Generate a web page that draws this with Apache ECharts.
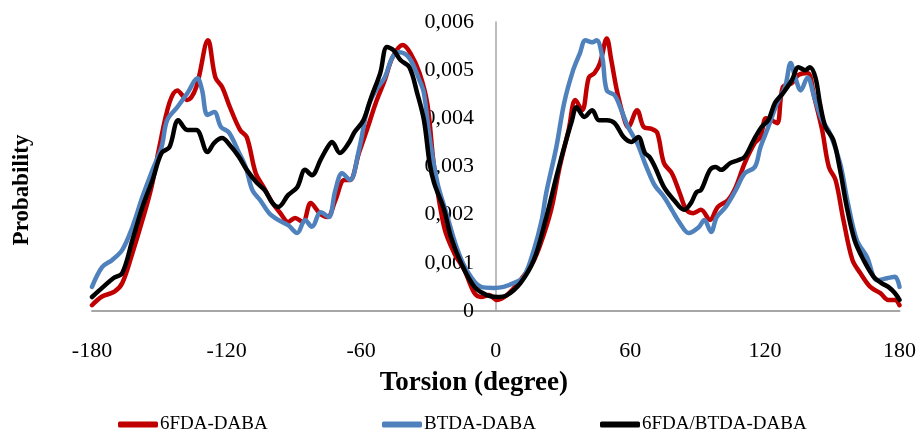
<!DOCTYPE html>
<html>
<head>
<meta charset="utf-8">
<script src="https://cdn.jsdelivr.net/npm/echarts@6/dist/echarts.min.js"></script>
<style>html,body{margin:0;padding:0;background:#fff}#c{width:919px;height:434px}</style>
</head>
<body>
<div id="c"></div>
<script>
// Values; probabilities are in units of 0.001
const UNIT = 0.001;
const xTicks = [-180, -120, -60, 0, 60, 120, 180];
const yTicks = [0, 0.001, 0.002, 0.003, 0.004, 0.005, 0.006];

const s1Name = '6FDA-DABA';
const s1Deg = [-180,-175.5,-170,-166.5,-162,-157.5,-153.5,-150,-145.5,-142,-137.5,-133.5,-128.3,-125,-122,-118.5,-114,-111,-107,-103.5,-99.5,-96,-92.5,-89.5,-86,-82.5,-78.5,-75,-71.5,-67.5,-65,-61,-57,-53.5,-49.5,-46,-41.5,-38,-34,-30.5,-27.5,-23,-18.5,-14,-9.5,-6.5,-3,0.5,5,11,17,21.5,25,28.5,32.5,35.5,38.5,41.5,44,46.5,49.5,51.5,54,57,59,63,66,69.5,72,75,78.5,82,85,88,91.5,95.5,99,103.5,107,111,115.5,118,120.5,123,125.5,128,132,135,139,142,145.5,148.5,151.5,155,159,162.5,167,171.5,175,178,180];
const s1Val = [0.12,0.30,0.40,0.58,1.2,1.89,2.57,3.40,4.32,4.58,4.38,4.65,5.62,4.85,4.65,4.23,3.76,3.61,2.86,2.57,2.24,2.03,1.85,1.93,1.85,2.24,2.03,1.95,2.30,2.72,2.72,3.28,3.82,4.32,4.79,5.27,5.52,5.35,4.94,4.3,3.0,1.74,1.20,0.85,0.37,0.29,0.33,0.23,0.33,0.64,1.05,1.6,2.16,2.99,3.76,4.38,4.17,4.85,4.94,5.15,5.66,5.21,4.58,4.03,3.82,4.17,3.82,3.78,3.70,3.07,2.86,2.45,2.10,2.03,2.10,1.89,2.16,2.30,2.57,3.07,3.49,3.61,4.0,3.96,3.90,4.65,4.73,4.90,4.94,4.44,3.76,2.99,2.72,1.89,1.06,0.79,0.50,0.37,0.23,0.23,0.12];

const s2Name = 'BTDA-DABA';
const s2Deg = [-180,-175.5,-171,-166.5,-162,-157.5,-153,-149,-146.5,-142,-137.5,-133,-131,-128.5,-125.5,-122.5,-119,-115,-111.5,-108.5,-105,-101,-97,-92.5,-88.5,-85,-82,-78,-74.5,-71.5,-68.5,-65,-61,-57,-53.5,-49.5,-46,-43,-38.5,-34,-32,-29.5,-26,-22,-17.5,-13,-6.5,-1,3.5,8,12.5,17,20.5,22.5,27,30.5,34.5,37.5,40,43,45,47.5,49.5,53,56,59,63,66,68,71,75,78.5,82,86,90.5,93,96,98.5,102.5,107,111,115.5,118,121.5,125.5,129,131.5,133.5,136,139,142,145.5,149,153.5,157,161,165.5,170,174.5,178,180];
const s2Val = [0.50,0.91,1.06,1.27,1.74,2.37,2.93,3.40,3.96,4.23,4.52,4.83,4.6,4.07,4.13,3.82,3.71,3.34,2.99,2.51,2.30,2.03,1.89,1.78,1.62,1.89,1.75,2.05,1.95,2.51,2.86,2.72,3.34,4.23,4.58,4.85,5.27,5.37,5.25,4.79,4.52,3.60,2.66,2.03,1.33,0.85,0.50,0.48,0.50,0.58,0.71,1.27,1.89,2.45,3.40,4.32,5.0,5.35,5.62,5.58,5.62,5.27,4.58,4.48,4.17,3.82,3.49,3.13,2.90,2.60,2.37,2.10,1.83,1.62,1.74,1.89,1.64,1.95,2.16,2.51,2.86,2.99,3.40,3.82,4.32,4.65,5.15,4.85,4.58,4.85,4.44,3.96,3.69,3.07,2.24,1.47,1.12,0.64,0.68,0.71,0.50];

const s3Name = '6FDA/BTDA-DABA';
const s3Deg = [-180,-175,-170.5,-166.5,-162,-157.5,-153,-149,-145.5,-141.5,-137.5,-133.5,-128.5,-125.5,-122,-118.5,-114.5,-111,-106.5,-103,-99.5,-97,-92.5,-88.5,-85,-82,-78,-75,-73,-69.5,-65.5,-63,-59,-55.5,-51.5,-48.5,-45.5,-42.5,-38.5,-35,-32,-29.5,-27.5,-23,-20,-15.5,-9.5,-4,0.5,5,11,17,22,27,30.5,34,36,39.5,43,46,49.5,53,57,60.5,63.5,66.5,68.5,71,75,79.5,84,87,89.5,91.5,95.5,98,100.5,104.5,108,111,115,118.5,121.5,124.5,128,132,135,138,140,142.5,144.5,147,150.5,153.5,156.5,160,164,168.5,172,175,178,180];
const s3Val = [0.29,0.50,0.68,0.79,1.47,2.16,2.72,3.28,3.40,3.96,3.76,3.76,3.30,3.49,3.59,3.44,3.20,2.93,2.66,2.51,2.24,2.16,2.41,2.57,2.93,2.82,3.15,3.40,3.51,3.28,3.49,3.71,3.96,4.44,4.94,5.48,5.41,5.21,5.06,4.52,3.96,3.07,2.66,2.10,1.54,1.0,0.50,0.33,0.29,0.33,0.58,1.06,1.85,2.78,3.40,3.96,4.23,4.03,4.17,3.96,3.96,3.90,3.61,3.51,3.61,3.28,3.2,2.99,2.57,2.30,2.10,2.24,2.47,2.51,2.93,2.99,2.93,3.07,3.13,3.20,3.55,3.82,3.96,4.32,4.52,4.79,5.06,5.0,5.06,4.85,4.32,3.82,3.55,2.93,2.16,1.47,1.06,0.71,0.58,0.50,0.37,0.23];

const pairs = (d, v) => d.map((x, i) => [x, v[i] * UNIT]);
const FONT = '"Liberation Serif", "Times New Roman", serif';
const GRID = {left: 92, right: 19, top: 22, bottom: 123};
const W = 919;
// y axis sits at x = 0: shift it from the grid's left edge to the middle
const yOffset = -((W - GRID.left - GRID.right) * (0 - xTicks[0]) / (xTicks[xTicks.length - 1] - xTicks[0]));

const chart = echarts.init(document.getElementById('c'), null, {renderer: 'canvas'});
const mkSeries = (name, d, v, color) => ({
  name, type: 'line', data: pairs(d, v), smooth: 0.35, showSymbol: false,
  lineStyle: {color, width: 4.5, cap: 'round', join: 'round'}, itemStyle: {color},
  animation: false
});
const mkLegend = (name, left) => ({
  data: [name], left, top: 410, icon: 'roundRect', itemWidth: 40, itemHeight: 6,
  itemGap: 4, textStyle: {fontFamily: FONT, fontSize: 19, color: '#000', padding: [0,0,0,-3]}
});
chart.setOption({
  backgroundColor: '#fff',
  animation: false,
  grid: Object.assign({containLabel: false}, GRID),
  xAxis: {
    type: 'value', min: xTicks[0], max: xTicks[xTicks.length - 1], interval: 60,
    axisLine: {show: true, lineStyle: {color: '#a6a6a6', width: 2}},
    axisTick: {show: false}, splitLine: {show: false},
    axisLabel: {fontFamily: FONT, fontSize: 22, color: '#000', margin: 29},
    name: 'Torsion (degree)', nameLocation: 'middle', nameGap: 59,
    nameTextStyle: {fontFamily: FONT, fontSize: 27, fontWeight: 'bold', color: '#000',
      padding: [0, 44, 0, 0]}
  },
  yAxis: {
    type: 'value', min: yTicks[0], max: yTicks[yTicks.length - 1], interval: 0.001,
    position: 'left', offset: yOffset,
    axisLine: {show: true, onZero: false, lineStyle: {color: '#a6a6a6', width: 1.5}},
    axisTick: {show: false}, splitLine: {show: false},
    axisLabel: {fontFamily: FONT, fontSize: 22, color: '#000', margin: 22,
      formatter: v => v === 0 ? '0' : v.toFixed(3).replace('.', ',')}
  },
  legend: [mkLegend(s1Name, 113), mkLegend(s2Name, 377), mkLegend(s3Name, 595)],
  graphic: [{
    type: 'text', x: 22, y: 190, rotation: Math.PI / 2,
    style: {text: 'Probability', font: 'bold 23px ' + FONT, fill: '#000',
      textAlign: 'center', textVerticalAlign: 'middle'}
  }],
  series: [
    mkSeries(s1Name, s1Deg, s1Val, '#C00000'),
    mkSeries(s2Name, s2Deg, s2Val, '#4F81BD'),
    mkSeries(s3Name, s3Deg, s3Val, '#000000')
  ]
});
</script>
</body>
</html>
